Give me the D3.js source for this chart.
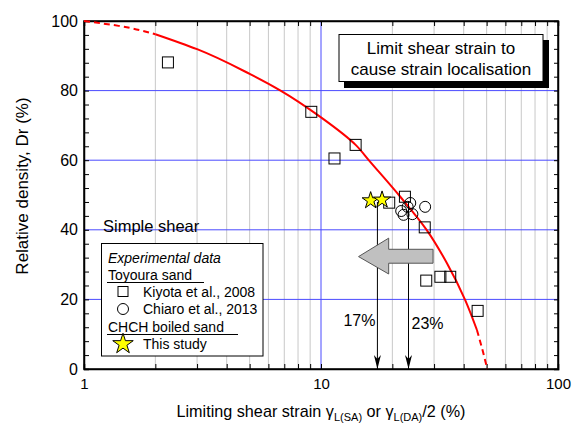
<!DOCTYPE html>
<html>
<head>
<meta charset="utf-8">
<script src="https://cdn.jsdelivr.net/npm/d3@7/dist/d3.min.js"></script>
<style>
  body { margin: 0; background: #fff; }
  svg { display: block; font-family: "Liberation Sans", Arial, sans-serif; }
</style>
</head>
<body>
<svg id="chart" width="575" height="426"></svg>
<script>
// Kiyota et al., 2008 (Toyoura sand): [limiting shear strain %, Dr %]
const kiyotaStrain = [2.26, 9.1, 14.0, 11.4, 22.6, 19.4, 27.4, 27.8, 31.9, 35.1, 45.8];
const kiyotaDr     = [88.1, 73.9, 64.4, 60.5, 49.5, 47.8, 40.7, 25.4, 26.5, 26.5, 16.7];

// Chiaro et al., 2013 (Toyoura sand)
const chiaroStrain = [21.8, 22.3, 23.8, 24.3, 27.5, 23.2];
const chiaroDr     = [45.4, 44.3, 47.7, 44.5, 46.6, 46.6];

// This study (CHCH boiled sand)
const studyStrain = [16.2, 18.1];
const studyDr     = [48.4, 48.6];

// Limit curve: solid over the data range, dashed extrapolation at both ends
const curveLeftStrain  = [1, 1.4, 2.0];
const curveLeftDr      = [100, 98.6, 96.2];
const curveMainStrain  = [2.0, 3.0, 5.0, 6.75, 10, 14, 16.1, 21.6, 27.9, 34, 40.6, 45.5];
const curveMainDr      = [96.2, 91.9, 84.8, 80, 72.3, 64.4, 59.6, 49.5, 40, 30.4, 19.8, 11.2];
const curveRightStrain = [45.5, 48.0, 50.3];
const curveRightDr     = [11.2, 5.5, 0];

// Limiting strains marked with arrows
const limitStrain = [17.3, 23.4];
const limitLabels = ["17%", "23%"];

// Axis ticks
const xMajorTicks = [1, 10, 100];
const yMajorTicks = [0, 20, 40, 60, 80, 100];

const svg = d3.select("#chart");
const pL = 84, pR = 558, pT = 21, pB = 369;

const x = d3.scaleLog().domain([1, 100]).range([pL, pR]);
const y = d3.scaleLinear().domain([0, 100]).range([pB, pT]);

// minor log positions 2..9, 20..90
const xMinor = [];
for (const dec of [1, 10]) for (let k = 2; k <= 9; k++) xMinor.push(k * dec);
const yMinor = d3.range(0, 101, 4);

// gray vertical grid
svg.append("g").selectAll("line").data(xMinor).join("line")
  .attr("x1", d => x(d)).attr("x2", d => x(d))
  .attr("y1", pT).attr("y2", pB)
  .attr("stroke", "#c8c8c8").attr("stroke-width", 1);

// blue grid lines
const gridBlue = "#4a4aff";
svg.append("g").selectAll("line").data([20, 40, 60, 80]).join("line")
  .attr("x1", pL).attr("x2", pR)
  .attr("y1", d => y(d)).attr("y2", d => y(d))
  .attr("stroke", gridBlue).attr("stroke-width", 1);
svg.append("line")
  .attr("x1", x(10)).attr("x2", x(10)).attr("y1", pT).attr("y2", pB)
  .attr("stroke", gridBlue).attr("stroke-width", 1);

// axes with inward ticks
const axB = d3.axisBottom(x).tickValues(xMajorTicks.concat(xMinor))
  .tickSize(-5).tickFormat(d => xMajorTicks.includes(d) ? d : "").tickPadding(9);
const axT = d3.axisTop(x).tickValues(xMajorTicks.concat(xMinor)).tickSize(-5).tickFormat("");
const axL = d3.axisLeft(y).tickValues(yMinor).tickSize(-5)
  .tickFormat(d => yMajorTicks.includes(d) ? d : "").tickPadding(6);
const axR = d3.axisRight(y).tickValues(yMinor).tickSize(-4).tickFormat("");

function styleAxis(g, size) {
  g.select(".domain").attr("stroke", "#000").attr("stroke-width", 1.5);
  g.selectAll(".tick line").attr("stroke", "#000").attr("stroke-width", 1);
  g.selectAll("text").attr("fill", "#000").attr("font-size", size)
    .attr("font-family", "Liberation Sans, Arial, sans-serif");
}
svg.append("g").attr("transform", `translate(0,${pB})`).call(axB).call(styleAxis, 15);
svg.append("g").attr("transform", `translate(0,${pT})`).call(axT).call(styleAxis, 15);
svg.append("g").attr("transform", `translate(${pL},0)`).call(axL).call(styleAxis, 16);
svg.append("g").attr("transform", `translate(${pR},0)`).call(axR).call(styleAxis, 16);
// frame
svg.append("rect").attr("x", pL).attr("y", pT).attr("width", pR - pL).attr("height", pB - pT)
  .attr("fill", "none").attr("stroke", "#000").attr("stroke-width", 1.5);

// limit curve
const line = d3.line().x(d => x(d[0])).y(d => y(d[1])).curve(d3.curveMonotoneY);
const zipPts = (a, b) => a.map((v, i) => [v, b[i]]);
svg.append("path").datum(zipPts(curveMainStrain, curveMainDr)).attr("d", line)
  .attr("fill", "none").attr("stroke", "#ff0000").attr("stroke-width", 2);
svg.append("path").datum(zipPts(curveLeftStrain, curveLeftDr)).attr("d", line)
  .attr("fill", "none").attr("stroke", "#ff0000").attr("stroke-width", 2).attr("stroke-dasharray", "6,4");
svg.append("path").datum(zipPts(curveRightStrain, curveRightDr)).attr("d", line)
  .attr("fill", "none").attr("stroke", "#ff0000").attr("stroke-width", 2).attr("stroke-dasharray", "6,4");

// vertical arrows at limiting strains
svg.append("g").selectAll("line").data(limitStrain).join("line")
  .attr("x1", d => x(d)).attr("x2", d => x(d))
  .attr("y1", y(48)).attr("y2", y(0))
  .attr("stroke", "#000").attr("stroke-width", 1);
svg.append("g").selectAll("path").data(limitStrain).join("path")
  .attr("transform", d => `translate(${x(d)},${y(0)})`)
  .attr("d", "M-3.5,-14 L0,0 L3.5,-14 L0,-10 Z").attr("fill", "#000");

// big gray arrow pointing left
const bigArrow = [[29.7, 34.4], [19.3, 34.4], [19.3, 37.6], [14.4, 32.3], [19.3, 27.3], [19.3, 30.4], [29.7, 30.4]];
svg.append("path")
  .attr("d", d3.line().x(d => x(d[0])).y(d => y(d[1]))(bigArrow) + "Z")
  .attr("fill", "#c0c0c0").attr("stroke", "#555").attr("stroke-width", 1);

// data markers
svg.append("g").selectAll("rect").data(zipPts(kiyotaStrain, kiyotaDr)).join("rect")
  .attr("x", d => x(d[0]) - 5.5).attr("y", d => y(d[1]) - 5.5)
  .attr("width", 11).attr("height", 11)
  .attr("fill", "none").attr("stroke", "#000").attr("stroke-width", 1);
svg.append("g").selectAll("circle").data(zipPts(chiaroStrain, chiaroDr)).join("circle")
  .attr("cx", d => x(d[0])).attr("cy", d => y(d[1])).attr("r", 5.5)
  .attr("fill", "none").attr("stroke", "#000").attr("stroke-width", 1);
const star = d3.symbol().type(d3.symbolStar).size(90);
svg.append("g").selectAll("path").data(zipPts(studyStrain, studyDr)).join("path")
  .attr("transform", d => `translate(${x(d[0])},${y(d[1])})`)
  .attr("d", star).attr("fill", "#ffff00").attr("stroke", "#000").attr("stroke-width", 1);

// percentage labels
svg.append("text").attr("x", x(limitStrain[0]) - 2).attr("y", 326).attr("text-anchor", "end")
  .attr("font-size", 16).text(limitLabels[0]);
svg.append("text").attr("x", x(limitStrain[1]) + 3).attr("y", 329).attr("text-anchor", "start")
  .attr("font-size", 16).text(limitLabels[1]);

// "Simple shear" label
svg.append("text").attr("x", 103).attr("y", 232).attr("font-size", 16.5).text("Simple shear");

// title box with drop shadow
svg.append("rect").attr("x", 344).attr("y", 40).attr("width", 205).attr("height", 48).attr("fill", "#000");
svg.append("rect").attr("x", 339).attr("y", 34.5).attr("width", 204).attr("height", 47)
  .attr("fill", "#fff").attr("stroke", "#000").attr("stroke-width", 1);
svg.append("text").attr("x", 441).attr("y", 54).attr("text-anchor", "middle").attr("font-size", 17)
  .text("Limit shear strain to");
svg.append("text").attr("x", 441).attr("y", 75).attr("text-anchor", "middle").attr("font-size", 17)
  .text("cause strain localisation");

// legend
const lg = svg.append("g");
lg.append("rect").attr("x", 101.5).attr("y", 243.5).attr("width", 161.5).attr("height", 112.5)
  .attr("fill", "#fff").attr("stroke", "#000").attr("stroke-width", 1);
lg.append("text").attr("x", 108).attr("y", 263).attr("font-size", 14).attr("font-style", "italic")
  .text("Experimental data");
lg.append("text").attr("x", 108).attr("y", 280).attr("font-size", 14).text("Toyoura sand");
lg.append("line").attr("x1", 107).attr("x2", 204).attr("y1", 282.5).attr("y2", 282.5).attr("stroke", "#000");
lg.append("rect").attr("x", 118).attr("y", 286.5).attr("width", 10).attr("height", 10)
  .attr("fill", "none").attr("stroke", "#000");
lg.append("text").attr("x", 143).attr("y", 297).attr("font-size", 14).text("Kiyota et al., 2008");
lg.append("circle").attr("cx", 123).attr("cy", 309).attr("r", 5.5).attr("fill", "none").attr("stroke", "#000");
lg.append("text").attr("x", 143).attr("y", 314).attr("font-size", 14).text("Chiaro et al., 2013");
lg.append("text").attr("x", 108).attr("y", 332).attr("font-size", 14).text("CHCH boiled sand");
lg.append("line").attr("x1", 107).attr("x2", 238).attr("y1", 334.5).attr("y2", 334.5).attr("stroke", "#000");
lg.append("path").attr("transform", "translate(123,344)").attr("d", d3.symbol().type(d3.symbolStar).size(130))
  .attr("fill", "#ffff00").attr("stroke", "#000");
lg.append("text").attr("x", 143).attr("y", 349).attr("font-size", 14).text("This study");

// axis titles
const xt = svg.append("text").attr("x", 321).attr("y", 417).attr("text-anchor", "middle").attr("font-size", 16.2);
xt.append("tspan").text("Limiting shear strain ");
xt.append("tspan").text("γ");
xt.append("tspan").attr("font-size", 11).attr("dy", 4).text("L(SA)");
xt.append("tspan").attr("dy", -4).text(" or ");
xt.append("tspan").text("γ");
xt.append("tspan").attr("font-size", 11).attr("dy", 4).text("L(DA)");
xt.append("tspan").attr("dy", -4).text("/2 (%)");

svg.append("text").attr("transform", "translate(28,186) rotate(-90)")
  .attr("text-anchor", "middle").attr("font-size", 17).text("Relative density, Dr (%)");
</script>
</body>
</html>
